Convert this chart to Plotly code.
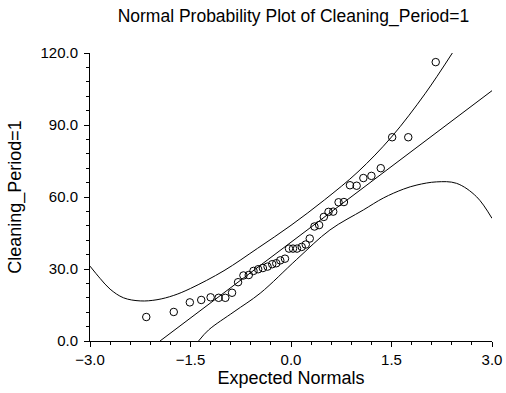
import plotly.graph_objects as go

expected = [-2.16, -1.75, -1.51, -1.34, -1.20, -1.08, -0.98, -0.88, -0.79, -0.71,
            -0.63, -0.56, -0.49, -0.42, -0.35, -0.28, -0.22, -0.16, -0.09, -0.03,
            0.03, 0.09, 0.16, 0.22, 0.28, 0.35, 0.42, 0.49, 0.56, 0.63,
            0.71, 0.79, 0.88, 0.98, 1.08, 1.20, 1.34, 1.51, 1.75, 2.16]
observed = [10.0, 12.1, 16.1, 17.1, 18.2, 18.0, 18.0, 20.1, 24.5, 27.3,
            27.5, 29.2, 29.9, 30.4, 31.0, 32.0, 32.4, 33.6, 34.3, 38.5,
            38.5, 38.5, 39.2, 40.2, 42.7, 47.7, 48.3, 51.7, 53.8, 53.9,
            57.8, 57.9, 64.9, 64.7, 67.9, 68.8, 72.0, 84.9, 84.9, 116.2]

# Reference line end points
ref_x = [-1.955, 3.0]
ref_y = [0.0, 104.3]

# Upper confidence band
upper_x = [-3.0, -2.85, -2.70, -2.50, -2.25, -2.00, -1.75, -1.50, -1.00, -0.50,
           0.00, 0.50, 1.00, 1.50, 2.00, 2.42]
upper_y = [31.2, 26.1, 21.6, 18.0, 16.7, 17.2, 19.0, 21.9, 29.3, 38.6,
           48.2, 58.8, 70.5, 85.0, 103.0, 120.5]

# Lower confidence band
lower_x = [-1.38, -1.23, -0.85, -0.46, 0.085, 0.58, 1.08, 1.38, 1.68, 1.88,
           2.17, 2.47, 2.77, 3.0]
lower_y = [0.0, 4.6, 12.2, 19.9, 34.0, 46.25, 54.6, 59.6, 63.3, 65.0,
           66.3, 65.7, 60.1, 51.1]

x_ticks = [-3.0, -1.5, 0.0, 1.5, 3.0]
y_ticks = [0.0, 30.0, 60.0, 90.0, 120.0]

FONT = "Liberation Sans, Arial, sans-serif"

fig = go.Figure()
fig.add_trace(go.Scatter(x=upper_x, y=upper_y, mode="lines",
                         line=dict(color="black", width=1, shape="spline"),
                         hoverinfo="skip", showlegend=False))
fig.add_trace(go.Scatter(x=lower_x, y=lower_y, mode="lines",
                         line=dict(color="black", width=1, shape="spline"),
                         hoverinfo="skip", showlegend=False))
fig.add_trace(go.Scatter(x=ref_x, y=ref_y, mode="lines",
                         line=dict(color="black", width=1),
                         hoverinfo="skip", showlegend=False))
fig.add_trace(go.Scatter(x=expected, y=observed, mode="markers",
                         marker=dict(symbol="circle-open", size=7.5,
                                     color="black", line=dict(width=1)),
                         showlegend=False))

axis_common = dict(
    automargin=False,
    showgrid=False, zeroline=False, showline=True, linecolor="black",
    linewidth=1, ticks="outside", ticklen=5, tickwidth=1, tickcolor="black",
    tickfont=dict(family=FONT, size=15, color="black"),
    tickformat=".1f",
)

fig.update_xaxes(range=[-3, 3], tickvals=x_ticks,
                 minor=dict(dtick=0.3, ticks="outside", ticklen=3,
                            tickcolor="black", tick0=-3),
                 title=dict(text="Expected Normals",
                            font=dict(family=FONT, size=18, color="black"),
                            standoff=3),
                 **axis_common)
fig.update_yaxes(range=[0, 120], tickvals=y_ticks,
                 minor=dict(dtick=6, ticks="outside", ticklen=3,
                            tickcolor="black", tick0=0),
                 ticklabelstandoff=3,
                 title=dict(text="Cleaning_Period=1",
                            font=dict(family=FONT, size=18, color="black"),
                            standoff=14),
                 **axis_common)

fig.update_layout(
    width=506, height=393,
    margin=dict(l=90, r=14, t=53, b=52),
    paper_bgcolor="white", plot_bgcolor="white",
    title=dict(text="Normal Probability Plot of Cleaning_Period=1",
               font=dict(family=FONT, size=17.5, color="black"),
               x=0.58, xanchor="center", y=0.959, yanchor="middle"),
)

fig.write_html("out.html", config={"displayModeBar": False},
               post_script="document.body.style.margin='0';")
